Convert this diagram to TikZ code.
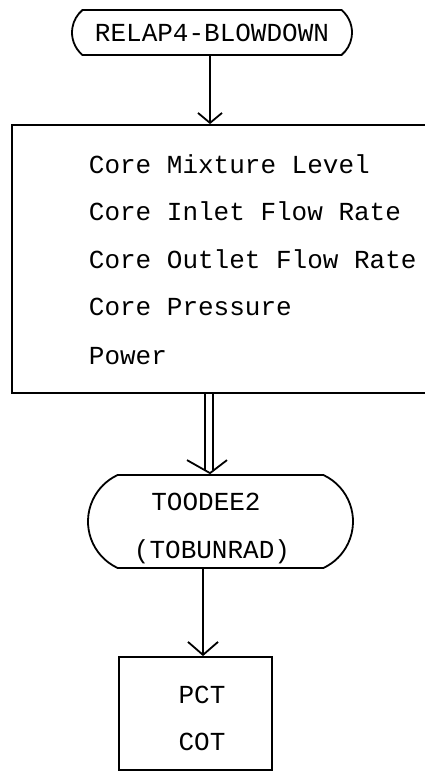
\documentclass[tikz,border=0pt]{standalone}
\usepackage{fontspec}
\setmainfont{Liberation Mono}
\usetikzlibrary{shapes.misc,arrows.meta,calc}
\begin{document}
\begin{tikzpicture}[x=1pt,y=-1pt,line width=1.8pt,
  txt/.style={font=\fontsize{26}{30}\selectfont,inner sep=0pt},
  term/.style={draw,rounded rectangle,inner sep=0pt},
  box/.style={draw,rectangle,inner sep=0pt},
  veeA/.style={-{Straight Barb[length=10pt,width=24pt]}},
  veeC/.style={-{Straight Barb[length=13pt,width=30pt]}}]
\useasboundingbox (0,0) rectangle (425,774);
% top terminal
\node[term,rounded rectangle arc length=100,minimum width=280pt,minimum height=45pt,txt] (top) at (212,32.5) {RELAP4-BLOWDOWN};
% core box
\node[box,minimum width=420pt,minimum height=268pt] (core) at (222,259) {};
\node[txt,anchor=base west] (l1) at (88,173.5) {Core Mixture Level};
\node[txt,anchor=base west] (l2) at (88,220.5) {Core Inlet Flow Rate};
\node[txt,anchor=base west] (l3) at (88,268.5) {Core Outlet Flow Rate};
\node[txt,anchor=base west] (l4) at (88,315.5) {Core Pressure};
\node[txt,anchor=base west] (l5) at (88,364.5) {Power};
% TOODEE2 terminal
\node[term,rounded rectangle arc length=130,minimum width=265pt,minimum height=93pt] (t2) at (220.5,521.5) {};
\node[txt,anchor=base] (t2a) at (206,510.5) {TOODEE2};
\node[txt,anchor=base] (t2b) at (212,558.5) {(TOBUNRAD)};
% result box
\node[box,minimum width=153pt,minimum height=113pt] (res) at (195.5,713.5) {};
\node[txt,anchor=base] (r1) at (202,703.5) {PCT};
\node[txt,anchor=base] (r2) at (202,750) {COT};
% connectors
\draw[veeA] ([xshift=-2pt]top.south) -- ([xshift=-2pt]top.south |- core.north);
\coordinate (dtip) at ($(t2.north)+(-10.5,-1)$);
\draw ([xshift=-5pt]core.south -| dtip) -- ([xshift=-5pt,yshift=3pt]dtip);
\draw ([xshift=3pt]core.south -| dtip) -- ([xshift=3pt,yshift=3pt]dtip);
\draw ($(dtip)+(-23,-13)$) -- (dtip) -- ($(dtip)+(17,-13)$);
\draw[veeC] ([xshift=-17.5pt]t2.south) -- ([xshift=-17.5pt]t2.south |- res.north);
\end{tikzpicture}
\end{document}
